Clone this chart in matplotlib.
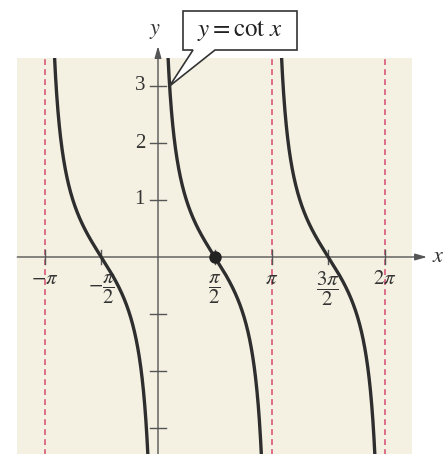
import numpy as np
import matplotlib
matplotlib.use("Agg")
import matplotlib.pyplot as plt
from matplotlib.patches import Rectangle, Polygon

plt.rcParams.update({"font.family": ["Liberation Serif", "DejaVu Serif"],
                     "mathtext.fontset": "stix"})

PI = np.pi
# branches of y = cot x between consecutive asymptotes
branches = [(-PI, 0.0), (0.0, PI), (PI, 2 * PI)]
asymptotes = [-PI, PI, 2 * PI]
x_ticks = [-PI, -PI / 2, PI / 2, PI, 3 * PI / 2, 2 * PI]
x_labels = [r"$-\pi$", r"$-\dfrac{\pi}{2}$", r"$\dfrac{\pi}{2}$", r"$\pi$",
            r"$\dfrac{3\pi}{2}$", r"$2\pi$"]
y_ticks = [-3, -2, -1, 1, 2, 3]
y_labels = {1: "1", 2: "2", 3: "3"}
point = (PI / 2, 0.0)

CURVE, AXIS, DASH, PANEL = "#2e2e2e", "#555555", "#d9587a", "#f4f1e2"

# pixel layout of the reference: origin at (158, 257), pi = 113.5 px, 1 unit = 57 px
sx, sy = PI / 113.5, 1 / 57.0
fig = plt.figure(figsize=(4.48, 4.54), dpi=100)
ax = fig.add_axes([0, 0, 1, 1])
ax.set_xlim(-158 * sx, (448 - 158) * sx)
ax.set_ylim(-(454 - 257) * sy, 257 * sy)
ax.axis("off")

panel = Rectangle((-1.24 * PI, -3.6), 3.48 * PI, 3.6 + 3.49,
                  color=PANEL, lw=0, zorder=0)
ax.add_patch(panel)

for a in asymptotes:
    ax.plot([a, a], [-3.6, 3.49], ls=(0, (3.5, 2.5)), color=DASH, lw=1.2, zorder=1)

# axes with arrows
ax.annotate("", xy=(2.37 * PI, 0), xytext=(-1.24 * PI, 0),
            arrowprops=dict(arrowstyle="-|>,head_length=0.7,head_width=0.2",
                            color=AXIS, lw=1.0, shrinkA=0, shrinkB=0), zorder=2)
ax.annotate("", xy=(0, 3.7), xytext=(0, -3.6),
            arrowprops=dict(arrowstyle="-|>,head_length=0.7,head_width=0.2",
                            color=AXIS, lw=1.0, shrinkA=0, shrinkB=0), zorder=2)
ax.text(2.47 * PI, 0.0, r"$x$", fontsize=16, ha="center", va="center", color="#333")
ax.text(-0.03 * PI, 3.95, r"$y$", fontsize=16, ha="center", va="center", color="#333")

tx = 8 * sx
for t in x_ticks:
    ax.plot([t, t], [-7 * sy, 7 * sy], color=AXIS, lw=1.0, zorder=2)
for t, lab in zip(x_ticks, x_labels):
    if "dfrac" in lab:
        ax.text(t, -(289 - 257) * sy, lab, fontsize=15, ha="center", va="center", color="#333")
    else:
        ax.text(t, -(279 - 257) * sy, lab, fontsize=15, ha="center", va="center", color="#333")
for t in y_ticks:
    ax.plot([-tx, tx], [t, t], color=AXIS, lw=1.0, zorder=2)
    if t in y_labels:
        ax.text(-13 * sx, t, y_labels[t], fontsize=15, ha="right", va="center", color="#333")

for lo, hi in branches:
    xs = np.linspace(lo + 0.02, hi - 0.02, 600)
    ys = np.cos(xs) / np.sin(xs)
    ln, = ax.plot(xs, ys, color=CURVE, lw=2.4, zorder=3)
    ln.set_clip_path(panel)

ax.plot(*point, "o", color="#222", ms=8, zorder=4)

# callout box with pointer to (arccot 3, 3)
bx0, bx1 = (183 - 158) * sx, (297 - 158) * sx
by0, by1 = (257 - 50) * sy, (257 - 11) * sy
w0, w1 = (193 - 158) * sx, (215 - 158) * sx
tip = (np.arctan(1 / 3), 3.0)
ax.add_patch(Polygon([(bx0, by0), (w0, by0), tip, (w1, by0), (bx1, by0),
                      (bx1, by1), (bx0, by1)], closed=True,
                     facecolor="white", edgecolor="#333", lw=1.2, zorder=5))
ax.text((bx0 + bx1) / 2, (by0 + by1) / 2, r"$y = \mathrm{cot}\ x$", fontsize=18,
        ha="center", va="center", color="#222", zorder=6)

fig.savefig("out.png", dpi=100)
